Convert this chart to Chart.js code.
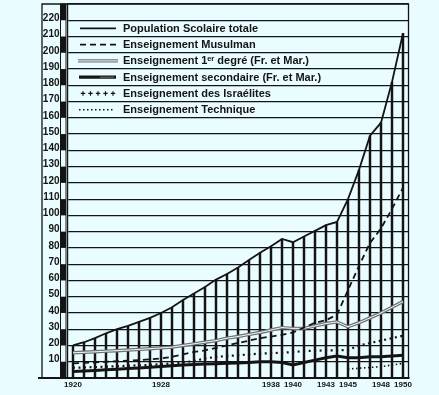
<!DOCTYPE html>
<html>
<head>
<meta charset="utf-8">
<script src="https://cdn.jsdelivr.net/npm/chart.js@4"></script>
<style>
  html, body { margin: 0; padding: 0; background: #e9fcff; }
  #wrap { width: 439px; height: 395px; position: relative; }
</style>
</head>
<body>
<div id="wrap"><canvas id="chart"></canvas></div>
<script>
// years on the x axis and the ones that carry a label
const years = ['1920','1921','1922','1923','1924','1925','1926','1927','1928','1929',
               '1930','1931','1932','1933','1934','1935','1936','1937','1938','1939',
               '1940','1941','1942','1943','1944','1945','1946','1947','1948','1949','1950'];
const shownYears = ['1920','1928','1938','1940','1943','1945','1948','1950'];

// values in thousands of pupils
const total      = [20, 22, 24.5, 27.5, 30, 32, 34.5, 37, 40, 43.5,
                    48, 52, 56, 60.5, 64, 68, 72.5, 77, 81, 85.5,
                    83.5, 87, 90.5, 94, 96, 110, 128, 149, 157, 182, 212];
const musulman   = [9, 9.3, 9.6, 10, 10.3, 10.7, 11, 11.5, 12, 13,
                    14.5, 16, 17, 18.5, 20, 21.5, 23, 24.5, 25.5, 26.5,
                    28, 31, 34, 35.5, 39, 54, 69, 83, 92, 104, 117];
const premierDeg = [15.5, 15.8, 16.1, 16.5, 16.8, 17.2, 17.6, 18, 18.5, 19,
                    20, 21, 22, 23, 24.5, 25.5, 26.8, 28, 29.5, 31,
                    30.5, 30.5, 32, 33.5, 34.5, 31.5, 34, 37, 40, 43.5, 47];
const secondaire = [4, 4.3, 4.6, 5, 5.4, 5.8, 6.2, 6.6, 7, 7.5,
                    8, 8.3, 8.6, 8.8, 9, 9.2, 9.5, 10, 10, 9.5,
                    8, 9.5, 11, 12.5, 13.5, 12.5, 12.5, 13, 13, 13.5, 14];
const israelites = [6.3, 6.5, 6.7, 7, 7.2, 7.5, 7.8, 8, 8.5, 9,
                    9.5, 10.5, 12, 13, 13.5, 14, 14.5, 15, 15.3, 15.5,
                    16, 16.5, 16.8, 17, 17, 17.2, 20, 21.5, 23, 24.5, 26];
const technique  = [null, null, null, null, null, null, null, null, null, null,
                    null, null, null, null, null, null, null, null, null, null,
                    null, null, null, null, null, 5.5, 6, 6.5, 7, 8, 9];

const legendLabels = [
  'Population Scolaire totale',
  'Enseignement Musulman',
  'Enseignement 1ᵉʳ degré (Fr. et Mar.)',
  'Enseignement secondaire (Fr. et Mar.)',
  'Enseignement des Israélites',
  'Enseignement Technique'
];

const BG = '#e9fcff';
const INK = '#141414';
const GREY = '#707070';

// frame, scale bar and legend drawn on top of the plot
const framePlugin = {
  id: 'frame',
  afterDraw(chart) {
    const ctx = chart.ctx;
    const a = chart.chartArea;
    const y = chart.scales.y;
    ctx.save();

    // alternating black scale bar left of the axis
    ctx.fillStyle = INK;
    for (let v = 0; v < 230; v += 20) {
      const y1 = y.getPixelForValue(v + 10), y0 = y.getPixelForValue(v);
      ctx.fillRect(a.left - 7, y1, 5.5, y0 - y1);
    }
    ctx.strokeStyle = INK;
    ctx.lineWidth = 1;
    ctx.strokeRect(a.left - 7, a.top, 5.5, a.bottom - a.top);

    // outer frame
    ctx.lineWidth = 1.3;
    ctx.beginPath();
    ctx.moveTo(42, a.bottom); ctx.lineTo(42, a.top);
    ctx.lineTo(a.right, a.top); ctx.lineTo(a.right, a.bottom);
    ctx.stroke();
    ctx.lineWidth = 2;
    ctx.beginPath();
    ctx.moveTo(38, a.bottom); ctx.lineTo(a.right + 1, a.bottom);
    ctx.stroke();

    // legend, one row between each pair of gridlines
    const x0 = 80, x1 = 116;
    ctx.font = 'bold 11px "Liberation Sans", Arial, sans-serif';
    ctx.textBaseline = 'middle';
    ctx.fillStyle = INK;
    legendLabels.forEach((label, i) => {
      const cy = y.getPixelForValue(215 - i * 10);
      ctx.setLineDash([]);
      ctx.strokeStyle = INK;
      ctx.lineWidth = 1.8;
      if (i === 0) {
        ctx.beginPath(); ctx.moveTo(x0, cy); ctx.lineTo(x1, cy); ctx.stroke();
      } else if (i === 1) {
        ctx.setLineDash([6, 4]);
        ctx.beginPath(); ctx.moveTo(x0, cy); ctx.lineTo(x1, cy); ctx.stroke();
      } else if (i === 2) {
        ctx.strokeStyle = GREY; ctx.lineWidth = 3.4;
        ctx.beginPath(); ctx.moveTo(x0 - 2, cy); ctx.lineTo(x1 + 2, cy); ctx.stroke();
        ctx.strokeStyle = BG; ctx.lineWidth = 1;
        ctx.beginPath(); ctx.moveTo(x0 - 2, cy); ctx.lineTo(x1 + 2, cy); ctx.stroke();
      } else if (i === 3) {
        ctx.lineWidth = 3.2;
        ctx.beginPath(); ctx.moveTo(x0 - 1, cy); ctx.lineTo(x1, cy); ctx.stroke();
        ctx.strokeStyle = GREY; ctx.lineWidth = 1;
        ctx.beginPath(); ctx.moveTo(x0 + 20, cy); ctx.lineTo(x1 - 2, cy); ctx.stroke();
      } else if (i === 4) {
        ctx.lineWidth = 1.2;
        for (let k = 0; k < 5; k++) {
          const cx = x0 + 3 + k * 7.5;
          ctx.beginPath();
          ctx.moveTo(cx - 2.2, cy); ctx.lineTo(cx + 2.2, cy);
          ctx.moveTo(cx, cy - 2.2); ctx.lineTo(cx, cy + 2.2);
          ctx.stroke();
        }
      } else {
        ctx.lineWidth = 1.5;
        ctx.setLineDash([1.5, 2.5]);
        ctx.beginPath(); ctx.moveTo(x0 - 1, cy); ctx.lineTo(x1 - 2, cy); ctx.stroke();
      }
      ctx.setLineDash([]);
      ctx.fillText(label, 123, cy + 0.5);
    });
    ctx.restore();
  }
};

new Chart(document.getElementById('chart'), {
  data: {
    labels: years,
    datasets: [
      { type: 'line', data: total, borderColor: INK, borderWidth: 1.8, pointRadius: 0, order: 1 },
      { type: 'line', data: musulman, borderColor: INK, borderWidth: 1.8, borderDash: [6, 4], pointRadius: 0, order: 1 },
      { type: 'line', data: premierDeg, borderColor: GREY, borderWidth: 3.4, pointRadius: 0, order: 2 },
      { type: 'line', data: premierDeg, borderColor: BG, borderWidth: 1, pointRadius: 0, order: 1 },
      { type: 'line', data: secondaire, borderColor: INK, borderWidth: 3, pointRadius: 0, order: 1 },
      { type: 'line', data: israelites, borderColor: INK, borderWidth: 2.2, borderDash: [2, 3.5], pointRadius: 0, order: 1 },
      { type: 'line', data: technique, borderColor: INK, borderWidth: 1.6, borderDash: [1.5, 2.5], pointRadius: 0, spanGaps: false, order: 1 },
      // drop lines under the total curve
      { type: 'bar', data: total, backgroundColor: INK, barThickness: 1.8, order: 10 }
    ]
  },
  options: {
    responsive: true,
    maintainAspectRatio: false,
    animation: false,
    layout: { padding: { left: 0, right: 30.5, top: 4, bottom: 0 } },
    plugins: { legend: { display: false }, tooltip: { enabled: false } },
    scales: {
      x: {
        offset: true,
        grid: { display: false, drawTicks: false },
        border: { display: false },
        ticks: {
          autoSkip: false, maxRotation: 0, padding: 2, color: INK,
          font: { family: '"Liberation Sans", Arial, sans-serif', size: 8, weight: 'bold' },
          callback: function (v, i) { return shownYears.includes(years[i]) ? years[i] : ''; }
        },
        afterFit: function (s) { s.height = 17; s.paddingLeft = 0; s.paddingRight = 0; }
      },
      y: {
        min: 0, max: 230,
        grid: { color: INK, lineWidth: 1.2, drawTicks: false },
        border: { display: true, color: INK, width: 1.2 },
        ticks: {
          stepSize: 10, padding: 8, labelOffset: -2, color: INK,
          font: { family: '"Liberation Sans", Arial, sans-serif', size: 10, weight: 'bold' },
          callback: function (v) { return (v === 0 || v === 230) ? '' : v; }
        },
        afterFit: function (s) { s.width = 67.5; s.paddingTop = 0; s.paddingBottom = 0; }
      }
    }
  },
  plugins: [framePlugin]
});
</script>
</body>
</html>
